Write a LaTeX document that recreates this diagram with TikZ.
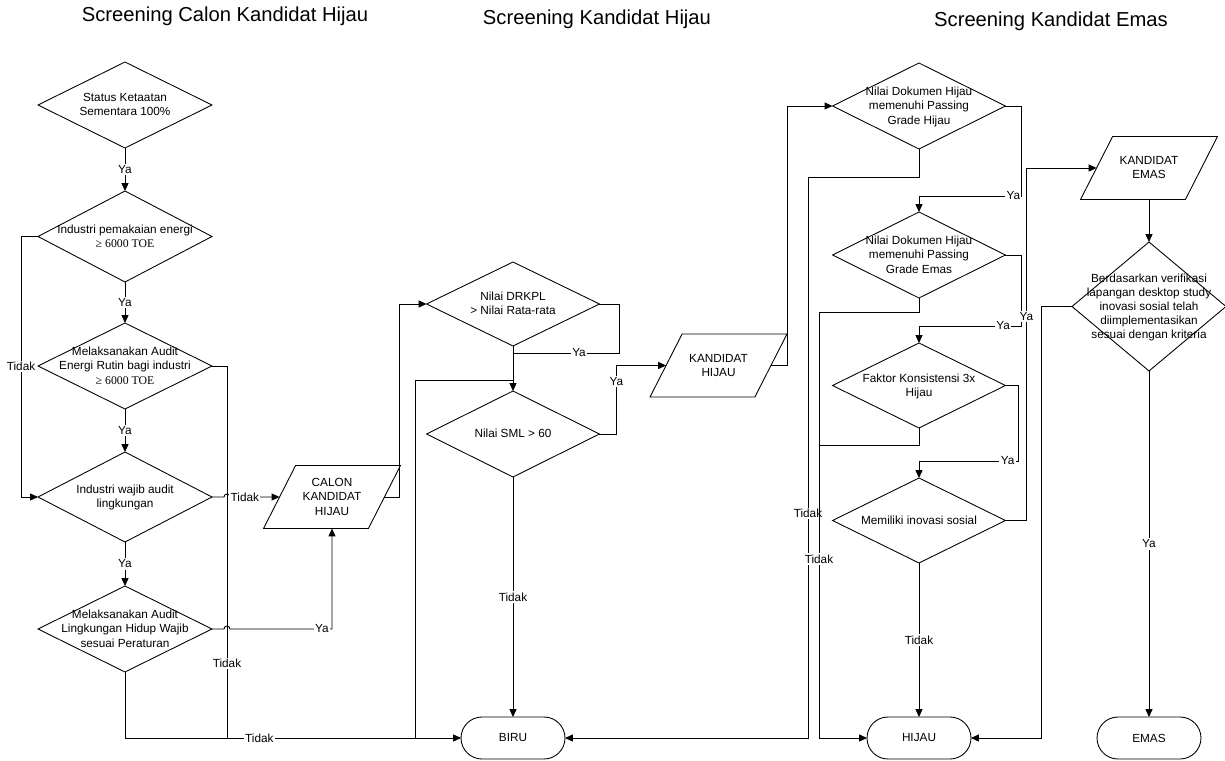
\documentclass[tikz,border=0pt]{standalone}
\usepackage{fontspec}
\setmainfont{Liberation Sans}
\newfontfamily\serifnum{Liberation Serif}
\usetikzlibrary{shapes.geometric,arrows.meta}
\newcommand{\flowtext}[1]{\smash{\makebox[0pt]{\raisebox{-2.4pt}{\begin{tabular}{@{}c@{}}#1\end{tabular}}}}}
\begin{document}
\begin{tikzpicture}[x=0.02cm,y=-0.02cm,>={Stealth[inset=0pt,length=4.5pt,width=4pt]},line width=0.5pt,
    every node/.style={font=\fontsize{6.7}{8}\selectfont},
    decision/.style={diamond,draw,inner sep=0pt,outer sep=0pt,minimum width=3.46cm,minimum height=1.72cm},
    data/.style={trapezium,trapezium left angle=63,trapezium right angle=117,draw,inner xsep=0.728cm,inner ysep=0.63cm,outer sep=0pt},
    terminal/.style={rectangle,rounded corners=0.42cm,draw,inner sep=0pt,outer sep=0pt,minimum width=2.08cm,minimum height=0.84cm},
    lbl/.style={fill=white,inner sep=0.8pt},
    title/.style={font=\fontsize{11.5}{13}\selectfont}]
            \useasboundingbox (0,0) rectangle (1225,761);
            \node[title] (judul1) at (225,16) {Screening Calon Kandidat Hijau};
            \node[title] (judul2) at (597,19) {Screening Kandidat Hijau};
            \node[title] (judul3) at (1051,21) {Screening Kandidat Emas};

            \node[decision,minimum width=3.48cm] (status) at (125,105) {\flowtext{Status Ketaatan\\Sementara 100\%}};
            \node[decision,minimum width=3.48cm,minimum height=1.82cm] (energi) at (125,236.5) {\flowtext{Industri pemakaian energi\\{\serifnum ≥ 6000 TOE}}};
            \node[decision,minimum width=3.48cm] (auditEnergi) at (125,366) {\flowtext{Melaksanakan Audit\\Energi Rutin bagi industri\\{\serifnum ≥ 6000 TOE}}};
            \node[decision,minimum width=3.48cm,minimum height=1.8cm] (wajibAudit) at (125,497) {\flowtext{Industri wajib audit\\lingkungan}};
            \node[decision,minimum width=3.48cm] (auditLH) at (125,629) {\flowtext{Melaksanakan Audit\\Lingkungan Hidup Wajib\\sesuai Peraturan}};
            \node[data] (calon) at (332,497) {\flowtext{CALON\\KANDIDAT\\HIJAU}};

            \node[decision,minimum height=1.68cm] (drkpl) at (513,304) {\flowtext{Nilai DRKPL\\> Nilai Rata-rata}};
            \node[decision] (sml) at (513,434) {\flowtext{Nilai SML > 60}};
            \node[data] (kanHijau) at (718.5,365.5) {\flowtext{KANDIDAT\\HIJAU}};
            \node[terminal] (biru) at (513,738) {BIRU};

            \node[decision] (docHijau) at (919,106) {\flowtext{Nilai Dokumen Hijau\\memenuhi Passing\\Grade Hijau}};
            \node[decision] (docEmas) at (919,255) {\flowtext{Nilai Dokumen Hijau\\memenuhi Passing\\Grade Emas}};
            \node[decision,minimum height=1.7cm] (konsisten) at (919,385.5) {\flowtext{Faktor Konsistensi 3x\\Hijau}};
            \node[decision,minimum height=1.7cm] (inovasi) at (919,520.5) {\flowtext{Memiliki inovasi sosial}};
            \node[terminal] (hijau) at (919,738) {HIJAU};

            \node[data] (kanEmas) at (1149,168) {\flowtext{KANDIDAT\\EMAS}};
            \node[decision,minimum width=3.08cm,minimum height=2.58cm] (verif) at (1149,306.5) {\flowtext{Berdasarkan verifikasi\\lapangan desktop study\\inovasi sosial telah\\diimplementasikan\\sesuai dengan kriteria}};
            \node[terminal] (emas) at (1149,738) {EMAS};

            \coordinate (drop1) at (227,738);
            \coordinate (ya1) at (513,353);
            \coordinate (loop1) at (415,738);
            \coordinate (loop2) at (513,380);
            \coordinate (ya2) at (919,196);
            \coordinate (tdk1) at (808,738);
            \coordinate (ya3) at (919,326);
            \coordinate (tdk2) at (819,738);
            \coordinate (tdk3) at (819,445);
            \coordinate (ya4) at (919,461);

            \draw[->] (status) -- node[lbl]{Ya} (energi);
            \draw[->] (energi) -- node[lbl]{Ya} (auditEnergi);
            \draw[->] (auditEnergi) -- node[lbl]{Ya} (wajibAudit);
            \draw[->] (wajibAudit) -- node[lbl]{Ya} (auditLH);
            \draw[->] (energi.west) -- ++(-17,0) |- node[lbl,pos=0.25]{Tidak} (wajibAudit.west);
            \draw (auditEnergi.east) -| node[lbl,pos=0.9]{Tidak} (drop1);
            \draw[->] (auditLH.south) |- node[lbl,pos=0.7]{Tidak} (biru.west);
            \draw[->] (wajibAudit.east) -- ++(12,0) arc[start angle=180,end angle=360,radius=3] -- node[lbl,pos=0.3]{Tidak} (calon.west);
            \draw[->] (auditLH.east) -- ++(12,0) arc[start angle=180,end angle=360,radius=3] -| node[lbl,pos=0.45]{Ya} (calon.south);
            \draw[->] (calon.east) -- ++(15,0) |- (drkpl.west);

            \draw (drkpl.east) -- ++(20,0) |- node[lbl,pos=0.69]{Ya} (ya1);
            \draw[->] (drkpl) -- (sml);
            \draw (loop1) |- (loop2);
            \draw[->] (sml.east) -- ++(17,0) |- node[lbl,pos=0.38]{Ya} (kanHijau.west);
            \draw[->] (sml) -- node[lbl]{Tidak} (biru);
            \draw[->] (kanHijau.east) -- ++(16,0) |- (docHijau.west);

            \draw[->] (docHijau.east) -- ++(16,0) |- node[lbl,pos=0.54]{Ya} (ya2) -- (docEmas);
            \draw[->] (docHijau.south) -- ++(0,28) -| node[lbl,pos=0.8]{Tidak} (tdk1) -- (biru.east);
            \draw[->] (docEmas.east) -- ++(16,0) |- node[lbl,pos=0.59]{Ya} (ya3) -- (konsisten);
            \draw[->] (docEmas.south) -- ++(0,14) -| node[lbl,pos=0.79]{Tidak} (tdk2) -- (hijau.west);
            \draw[->] (konsisten.east) -- ++(13,0) |- node[lbl,pos=0.555]{Ya} (ya4) -- (inovasi);
            \draw (konsisten.south) |- (tdk3);
            \draw[->] (inovasi.east) -- ++(21,0) |- node[lbl,pos=0.29]{Ya} (kanEmas.west);
            \draw[->] (inovasi) -- node[lbl]{Tidak} (hijau);

            \draw[->] (kanEmas) -- (verif);
            \draw[->] (verif.west) -- ++(-31,0) |- (hijau.east);
            \draw[->] (verif) -- node[lbl]{Ya} (emas);
        \end{tikzpicture}
\end{document}
